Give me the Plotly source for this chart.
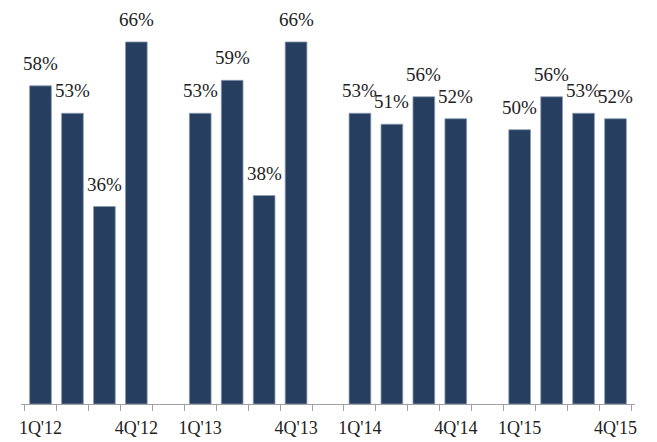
import plotly.graph_objects as go

years = ["12", "13", "14", "15"]
quarters = ["1Q", "2Q", "3Q", "4Q"]
values = [58, 53, 36, 66,
          53, 59, 38, 66,
          53, 51, 56, 52,
          50, 56, 53, 52]
shown_quarters = ["1Q", "4Q"]

# Build category slots (with an empty slot between years)
x_cats, y_vals, tick_text = [], [], []
i = 0
for yi, yr in enumerate(years):
    for q in quarters:
        lab = f"{q}'{yr}"
        x_cats.append(lab)
        y_vals.append(values[i])
        tick_text.append(lab if q in shown_quarters else "")
        i += 1
    if yi < len(years) - 1:
        gap = " " * (yi + 1)
        x_cats.append(gap)
        y_vals.append(None)
        tick_text.append("")

bar_color = "#263F60"
font_family = "Liberation Serif"

fig = go.Figure()
fig.add_trace(go.Bar(
    x=x_cats, y=y_vals,
    marker=dict(color=bar_color, line=dict(color="#8A9AB2", width=0.8)),
    hoverinfo="skip",
))

for xc, yv in zip(x_cats, y_vals):
    if yv is None:
        continue
    fig.add_annotation(
        x=xc, y=yv, text=f"{yv}%", showarrow=False,
        yanchor="bottom", xanchor="center", yshift=10,
        font=dict(family=font_family, size=19, color="#222222"),
    )

fig.update_layout(
    width=657, height=442,
    margin=dict(l=21, r=22, t=20, b=38, autoexpand=False),
    paper_bgcolor="white", plot_bgcolor="white",
    bargap=0.32, showlegend=False,
    font=dict(family=font_family, size=19, color="#222222"),
)
fig.update_xaxes(
    type="category", categoryorder="array", categoryarray=x_cats,
    tickmode="array", tickvals=x_cats, ticktext=tick_text,
    tickson="boundaries", ticks="outside", ticklen=6, tickwidth=1.2,
    tickcolor="#A0A0A0", showline=True, linecolor="#A0A0A0", linewidth=1.2,
    showgrid=False, zeroline=False, tickangle=0, automargin=False,
    ticklabelstandoff=7,
    tickfont=dict(family=font_family, size=18, color="#222222"),
)
fig.update_yaxes(range=[0, 70], visible=False, showgrid=False, zeroline=False)

fig.write_html("out.html")
